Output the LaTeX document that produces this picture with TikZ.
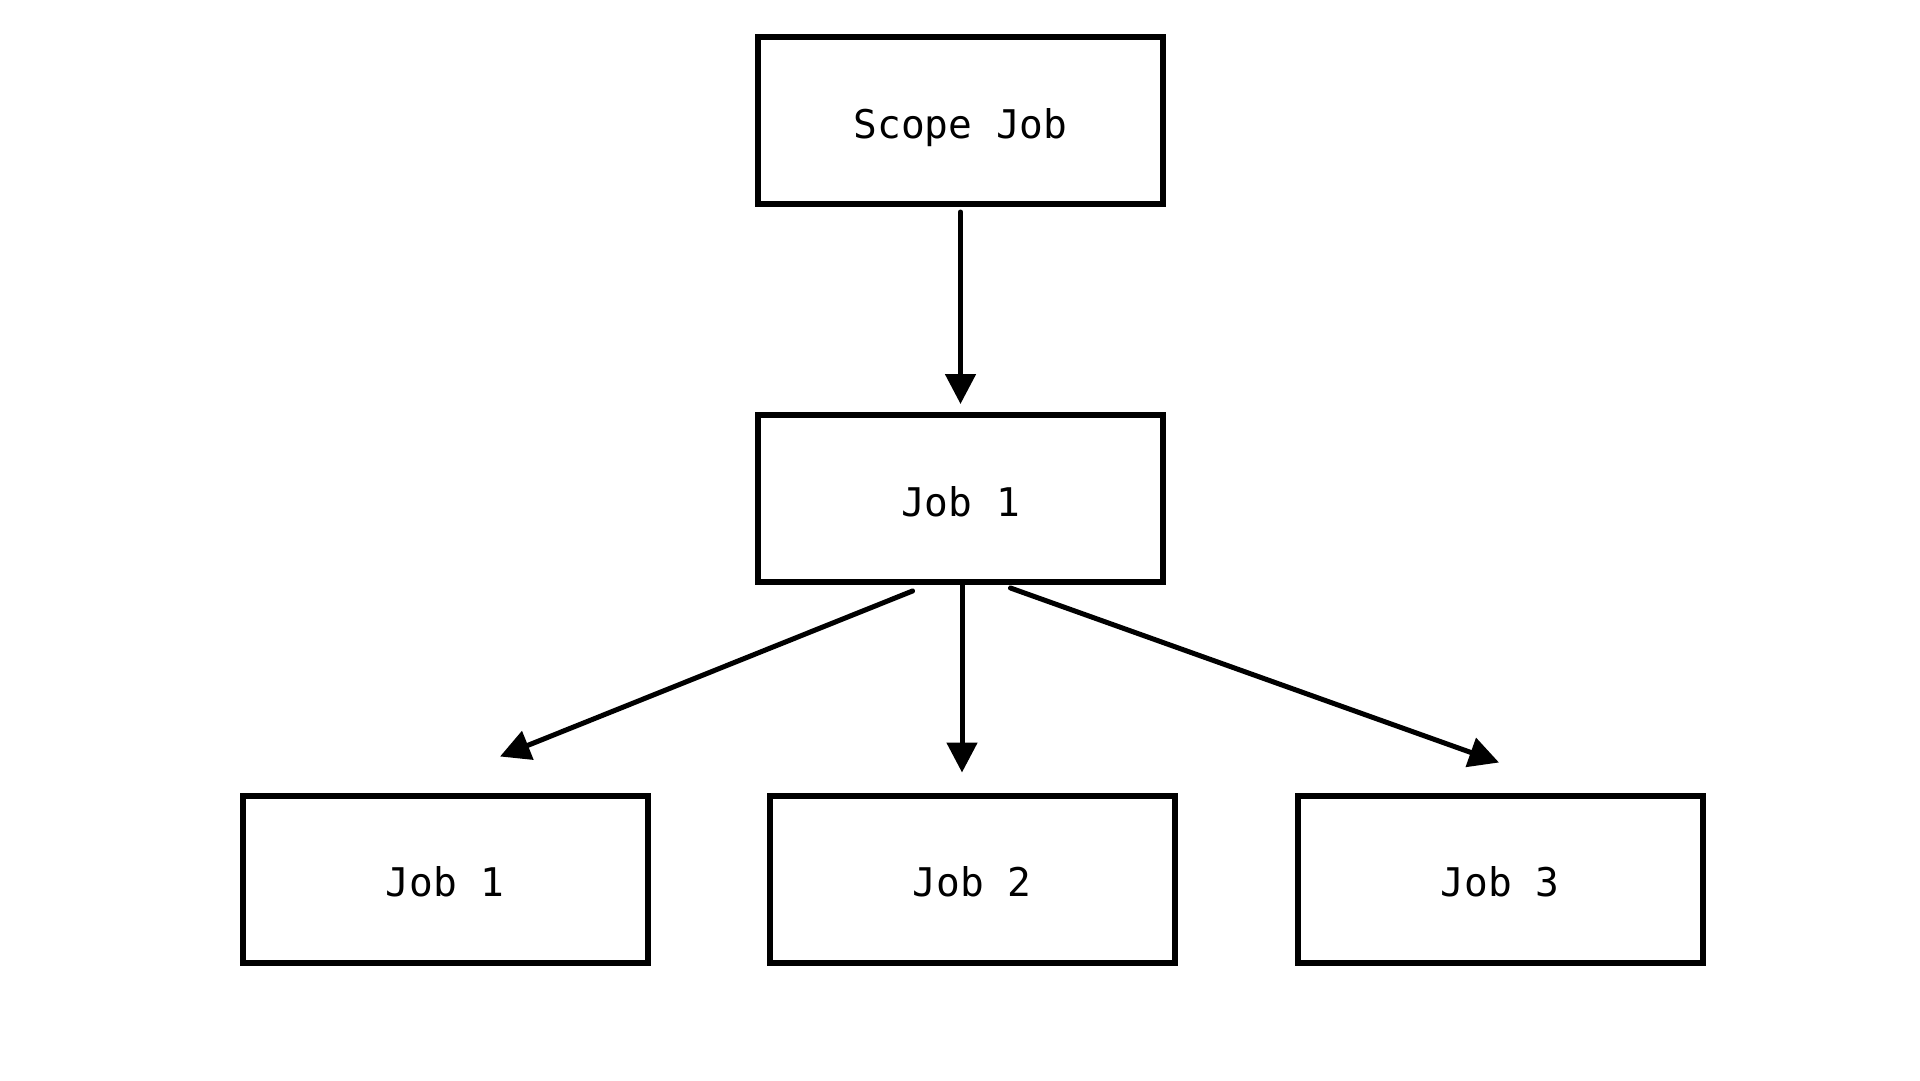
\documentclass[tikz,border=0pt]{standalone}
\usepackage{fontspec}
\newfontfamily\codefont{DejaVu Sans Mono}
\usetikzlibrary{arrows.meta}
\begin{document}
\begin{tikzpicture}[x=1pt,y=-1pt,
  jobbox/.style={draw=black, line width=6pt, fill=white, minimum width=405pt, minimum height=167pt, inner sep=0pt, text height=35pt, text depth=0pt, font=\codefont\fontsize{39.5}{44}\selectfont},
  conn/.style={line width=5pt, line cap=round, -{Triangle[width=30pt,length=30pt]}}]
\fill[white] (0,0) rectangle (1920,1080);
\useasboundingbox (0,0) rectangle (1920,1080);
\node[jobbox] (s) at (960.5,120.5) {Scope Job};
\node[jobbox] (m) at (960.5,498.5) {Job 1};
\node[jobbox] (b1) at (445,879) {Job 1};
\node[jobbox] (b2) at (972,879) {Job 2};
\node[jobbox] (b3) at (1500,879) {Job 3};
\draw[conn] ([yshift=-5pt]s.south) -- ([yshift=8pt]m.north);
\draw[conn] ([xshift=-48pt,yshift=-6pt]m.south) -- ([xshift=55pt,yshift=36pt]b1.north);
\draw[conn] ([xshift=1.5pt,yshift=3pt]m.south) -- ([xshift=-10pt,yshift=20pt]b2.north);
\draw[conn] ([xshift=50pt,yshift=-3pt]m.south) -- ([xshift=-1pt,yshift=30pt]b3.north);
\end{tikzpicture}
\end{document}
